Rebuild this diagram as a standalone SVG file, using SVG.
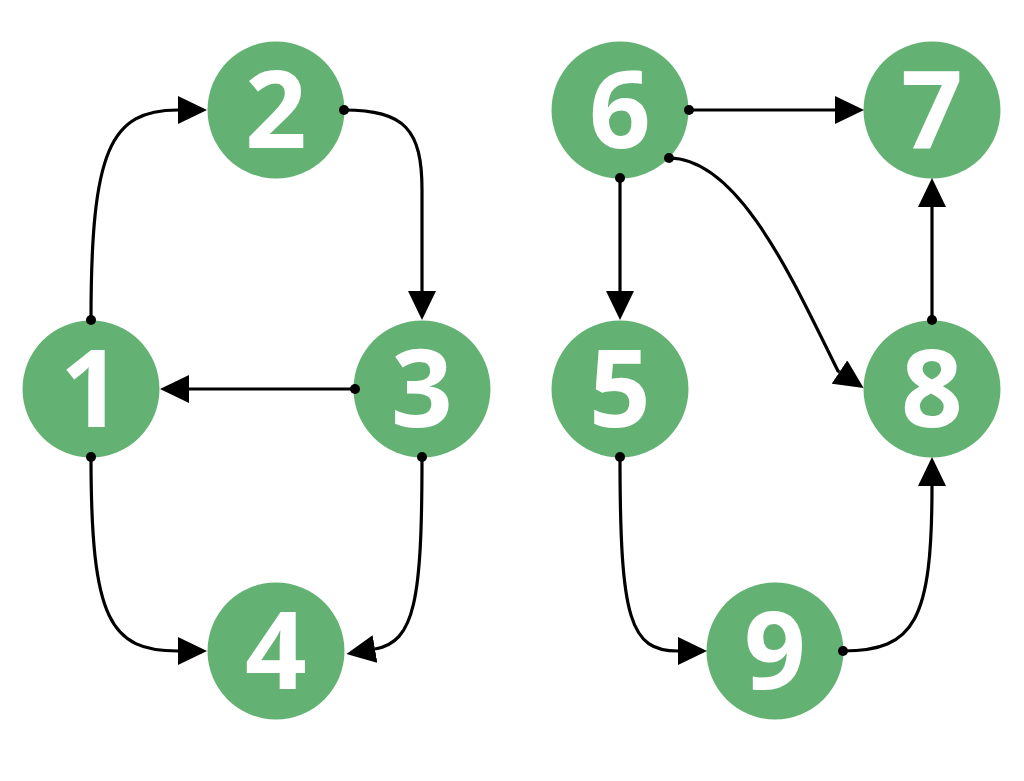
<svg xmlns="http://www.w3.org/2000/svg" width="1024" height="781" viewBox="0 0 1024 781">
  <style>
    .node circle { fill: #63b274; }
    .node text { fill: #ffffff; font-family: "Open Sans", "Noto Sans", "DejaVu Sans", sans-serif; font-weight: 700; font-size: 108px; text-anchor: middle; }
    .edge { fill: none; stroke: #000000; stroke-width: 3.2; marker-end: url(#arrow); }
    .dot { fill: #000000; }
  </style>
  <defs>
    <marker id="arrow" viewBox="0 0 29 28" refX="0" refY="14" markerWidth="29" markerHeight="28" markerUnits="userSpaceOnUse" orient="auto">
      <path d="M0,0 L29,14 L0,28 z" fill="#000000"/>
    </marker>
  </defs>
  <rect width="1024" height="781" fill="#ffffff"/>

  <g id="node-1" class="node"><circle cx="91" cy="389" r="68.5"/><text x="91" y="427">1</text></g>
  <g id="node-2" class="node"><circle cx="276" cy="110" r="68.5"/><text x="276" y="148">2</text></g>
  <g id="node-3" class="node"><circle cx="422" cy="389" r="68.5"/><text x="422" y="427">3</text></g>
  <g id="node-4" class="node"><circle cx="276" cy="651" r="68.5"/><text x="276" y="689">4</text></g>
  <g id="node-5" class="node"><circle cx="620" cy="389" r="68.5"/><text x="620" y="427">5</text></g>
  <g id="node-6" class="node"><circle cx="620" cy="110" r="68.5"/><text x="620" y="148">6</text></g>
  <g id="node-7" class="node"><circle cx="932" cy="110" r="68.5"/><text x="932" y="148">7</text></g>
  <g id="node-8" class="node"><circle cx="932" cy="389" r="68.5"/><text x="932" y="427">8</text></g>
  <g id="node-9" class="node"><circle cx="775" cy="651" r="68.5"/><text x="775" y="689">9</text></g>

  <g id="connectors">
    <path class="edge" d="M91,320 C91,150 110,110 178,110"/>
    <circle class="dot" cx="91" cy="320" r="5"/>
    <path class="edge" d="M344,110 C405,110 422,130 422,190 L422,291"/>
    <circle class="dot" cx="344" cy="110" r="5"/>
    <path class="edge" d="M355,389 L189,389"/>
    <circle class="dot" cx="355" cy="389" r="5"/>
    <path class="edge" d="M91,457 C91,620 110,651 178,651"/>
    <circle class="dot" cx="91" cy="457" r="5"/>
    <path class="edge" d="M422,457 C422,600 415,642 375,649"/>
    <circle class="dot" cx="422" cy="457" r="5"/>
    <path class="edge" d="M689,110 L835,110"/>
    <circle class="dot" cx="689" cy="110" r="5"/>
    <path class="edge" d="M620,178 L620,291"/>
    <circle class="dot" cx="620" cy="178" r="5"/>
    <path class="edge" d="M669,158 C740,158 795,285 838,371 L839.5,372"/>
    <circle class="dot" cx="669" cy="158" r="5"/>
    <path class="edge" d="M932,320 L932,207"/>
    <circle class="dot" cx="932" cy="320" r="5"/>
    <path class="edge" d="M620,457 C620,620 630,651 678,651"/>
    <circle class="dot" cx="620" cy="457" r="5"/>
    <path class="edge" d="M843,651 C915,651 932,620 932,486"/>
    <circle class="dot" cx="843" cy="651" r="5"/>
  </g>
</svg>
